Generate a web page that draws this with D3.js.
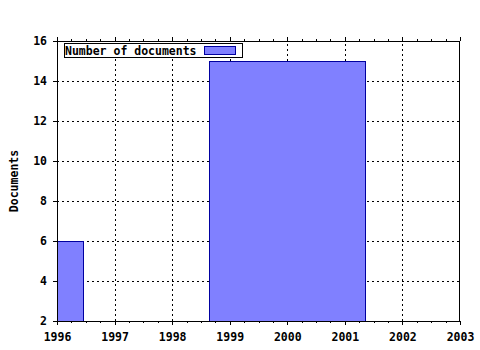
<!DOCTYPE html>
<html>
<head>
<meta charset="utf-8">
<script src="https://cdn.jsdelivr.net/npm/d3@7"></script>
<style>
  body { margin: 0; background: #fff; }
  text { font-family: "DejaVu Sans Mono", monospace; font-weight: bold; font-size: 11.5px; fill: #000; }
</style>
</head>
<body>
<div id="chart"></div>
<script>
    // histogram bins (year ranges) and counts
    const binStart = [1995.5, 1998.5];
    const binEnd = [1996.5, 2001.5];
    const counts = [6, 15];
    const xTicks = [1996, 1997, 1998, 1999, 2000, 2001, 2002, 2003];
    const yTicks = [2, 4, 6, 8, 10, 12, 14, 16];
    const seriesName = "Number of documents";
    const yTitle = "Documents";

    const width = 480;
    const height = 350;
    const margin = { left: 57, right: 20, top: 41, bottom: 29 };
    const boxFill = 0.9;

    const x = d3.scaleLinear()
        .domain([1996, 2003])
        .range([margin.left, width - margin.right]);

    const y = d3.scaleLinear()
        .domain([2, 16])
        .range([height - margin.bottom, margin.top]);

    const svg = d3.select("#chart").append("svg")
        .attr("width", width)
        .attr("height", height);

    svg.append("defs").append("clipPath").attr("id", "plot")
        .append("rect")
        .attr("x", margin.left).attr("y", margin.top)
        .attr("width", x.range()[1] - margin.left)
        .attr("height", y.range()[0] - margin.top);

    // grid
    const grid = svg.append("g")
        .attr("stroke", "#000")
        .attr("stroke-width", 1)
        .attr("stroke-dasharray", "2,3")
        .attr("shape-rendering", "crispEdges");

    grid.selectAll(".gx")
        .data(xTicks.slice(1, -1))
        .join("line")
        .attr("x1", d => Math.round(x(d)) + 0.5)
        .attr("x2", d => Math.round(x(d)) + 0.5)
        .attr("y1", y(2))
        .attr("y2", y(16));

    grid.selectAll(".gy")
        .data(yTicks.slice(1, -1))
        .join("line")
        .attr("y1", d => Math.round(y(d)) + 0.5)
        .attr("y2", d => Math.round(y(d)) + 0.5)
        .attr("x1", x(1996))
        .attr("x2", x(2003));

    // bars
    const bins = counts.map((c, i) => {
        const mid = (binStart[i] + binEnd[i]) / 2;
        const half = (binEnd[i] - binStart[i]) * boxFill / 2;
        return { x0: mid - half, x1: mid + half, count: c };
    });

    svg.append("g")
        .attr("clip-path", "url(#plot)")
        .selectAll("rect")
        .data(bins)
        .join("rect")
        .attr("x", d => Math.floor(x(d.x0)) + 0.5)
        .attr("y", d => Math.round(y(d.count)) + 0.5)
        .attr("width", d => Math.round(x(d.x1)) - Math.floor(x(d.x0)))
        .attr("height", d => Math.round(y(2)) - Math.round(y(d.count)))
        .attr("fill", "#8080ff")
        .attr("stroke", "#0000a0")
        .attr("stroke-width", 1);

    // axes
    const xMinor = d3.range(0, 29).map(i => 1996 + i * 0.25);

    const xBottom = d3.axisBottom(x).tickValues(xTicks).tickFormat(d3.format("d")).tickSize(4).tickPadding(8);
    const xBottomMinor = d3.axisBottom(x).tickValues(xMinor).tickFormat("").tickSize(2);
    const xTopMinor = d3.axisTop(x).tickValues(xMinor).tickFormat("").tickSize(2);
    const xTop = d3.axisTop(x).tickValues(xTicks).tickFormat("").tickSize(4);
    const yLeft = d3.axisLeft(y).tickValues(yTicks).tickSize(4).tickPadding(6);

    function styleAxis(g) {
        g.attr("shape-rendering", "crispEdges");
        g.select(".domain").remove();
        g.selectAll("line").attr("stroke", "#000");
        g.selectAll("text").attr("font-family", null).attr("font-size", null);
        g.attr("font-family", null).attr("font-size", null);
    }

    svg.append("g").attr("transform", `translate(0,${y(2)})`).call(xBottomMinor).call(styleAxis);
    svg.append("g").attr("transform", `translate(0,${y(2)})`).call(xBottom).call(styleAxis);
    svg.append("g").attr("transform", `translate(0,${y(16)})`).call(xTopMinor).call(styleAxis);
    svg.append("g").attr("transform", `translate(0,${y(16)})`).call(xTop).call(styleAxis);
    svg.append("g").attr("transform", `translate(${x(1996)},0)`).call(yLeft).call(styleAxis);

    // frame
    svg.append("rect")
        .attr("x", x(1996) + 0.5)
        .attr("y", y(16) + 0.5)
        .attr("width", x(2003) - x(1996) - 1)
        .attr("height", y(2) - y(16))
        .attr("fill", "none")
        .attr("stroke", "#000")
        .attr("shape-rendering", "crispEdges");

    // y title
    svg.append("text")
        .attr("transform", `translate(18,${(y(2) + y(16)) / 2}) rotate(-90)`)
        .attr("text-anchor", "middle")
        .text(yTitle);

    // legend
    const legend = svg.append("g").attr("shape-rendering", "crispEdges");
    legend.append("rect")
        .attr("x", 64.5).attr("y", 43.5)
        .attr("width", 178).attr("height", 14)
        .attr("fill", "#fff").attr("stroke", "#000");
    legend.append("text")
        .attr("x", 65).attr("y", 54.5)
        .text(seriesName);
    legend.append("rect")
        .attr("x", 204.5).attr("y", 46.5)
        .attr("width", 31).attr("height", 8)
        .attr("fill", "#8080ff").attr("stroke", "#0000a0");
</script>
</body>
</html>
